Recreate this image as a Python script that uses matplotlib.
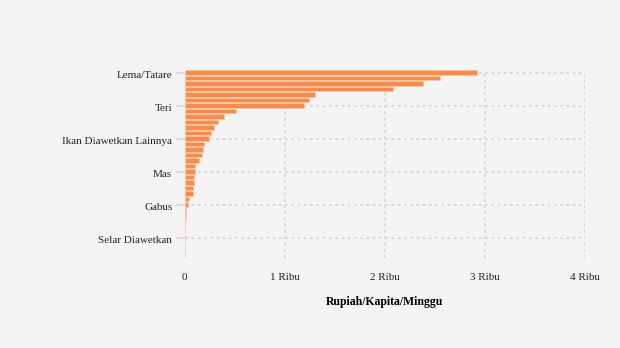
import matplotlib.pyplot as plt
import matplotlib.transforms as mtransforms

# nilai per jenis ikan (Rupiah/Kapita/Minggu), urut dari terbesar
nilai = [2920, 2550, 2380, 2080, 1300, 1240, 1190, 510, 390, 330, 290, 260,
         240, 190, 180, 170, 140, 100, 100, 90, 90, 80, 80, 40,
         30, 10, 8, 6, 5, 4, 3, 3, 2, 1]
label_y = ["Lema/Tatare", "Teri", "Ikan Diawetkan Lainnya", "Mas", "Gabus", "Selar Diawetkan"]
pos_label = [0, 6, 12, 18, 24, 30]
xticks = [0, 1000, 2000, 3000, 4000]
xticklabels = ["0", "1 Ribu", "2 Ribu", "3 Ribu", "4 Ribu"]

plt.rcParams['font.family'] = ['Liberation Serif', 'DejaVu Serif']

fig = plt.figure(figsize=(6.2, 3.48), dpi=100, facecolor='#f4f4f4')
ax = fig.add_axes([0.298, 0.259, 0.646, 0.54])
ax.set_facecolor('#f4f4f4')

ax.barh(range(len(nilai)), nilai, height=0.8, color='#f58b4c',
        edgecolor='#f9c3a0', linewidth=0.6, zorder=2)

ax.set_xlim(0, 4000)
ax.set_ylim(33.7, -0.5)
ax.set_xticks(xticks)
ax.set_xticklabels(xticklabels, fontsize=8, color='#222222')
ax.set_yticks(pos_label)
ax.set_yticklabels(label_y, fontsize=8, color='#222222')

ax.grid(True, color='#dddddd', linestyle=(0, (1.5, 1.5)), linewidth=1.5, zorder=1)
for s in ax.spines.values():
    s.set_visible(False)
ax.tick_params(axis='y', length=6.5, width=1.5, color='#dddddd', pad=2.5)
ax.tick_params(axis='x', length=0, pad=11)

# labels y un peu plus bas que la ligne de grille
off = mtransforms.ScaledTranslation(0, -1.2 / 72, fig.dpi_scale_trans)
for t in ax.get_yticklabels():
    t.set_transform(t.get_transform() + off)

ax.set_xlabel("Rupiah/Kapita/Minggu", fontsize=8.5, fontweight='bold', labelpad=10)

plt.savefig("out.png", dpi=100, facecolor=fig.get_facecolor())
